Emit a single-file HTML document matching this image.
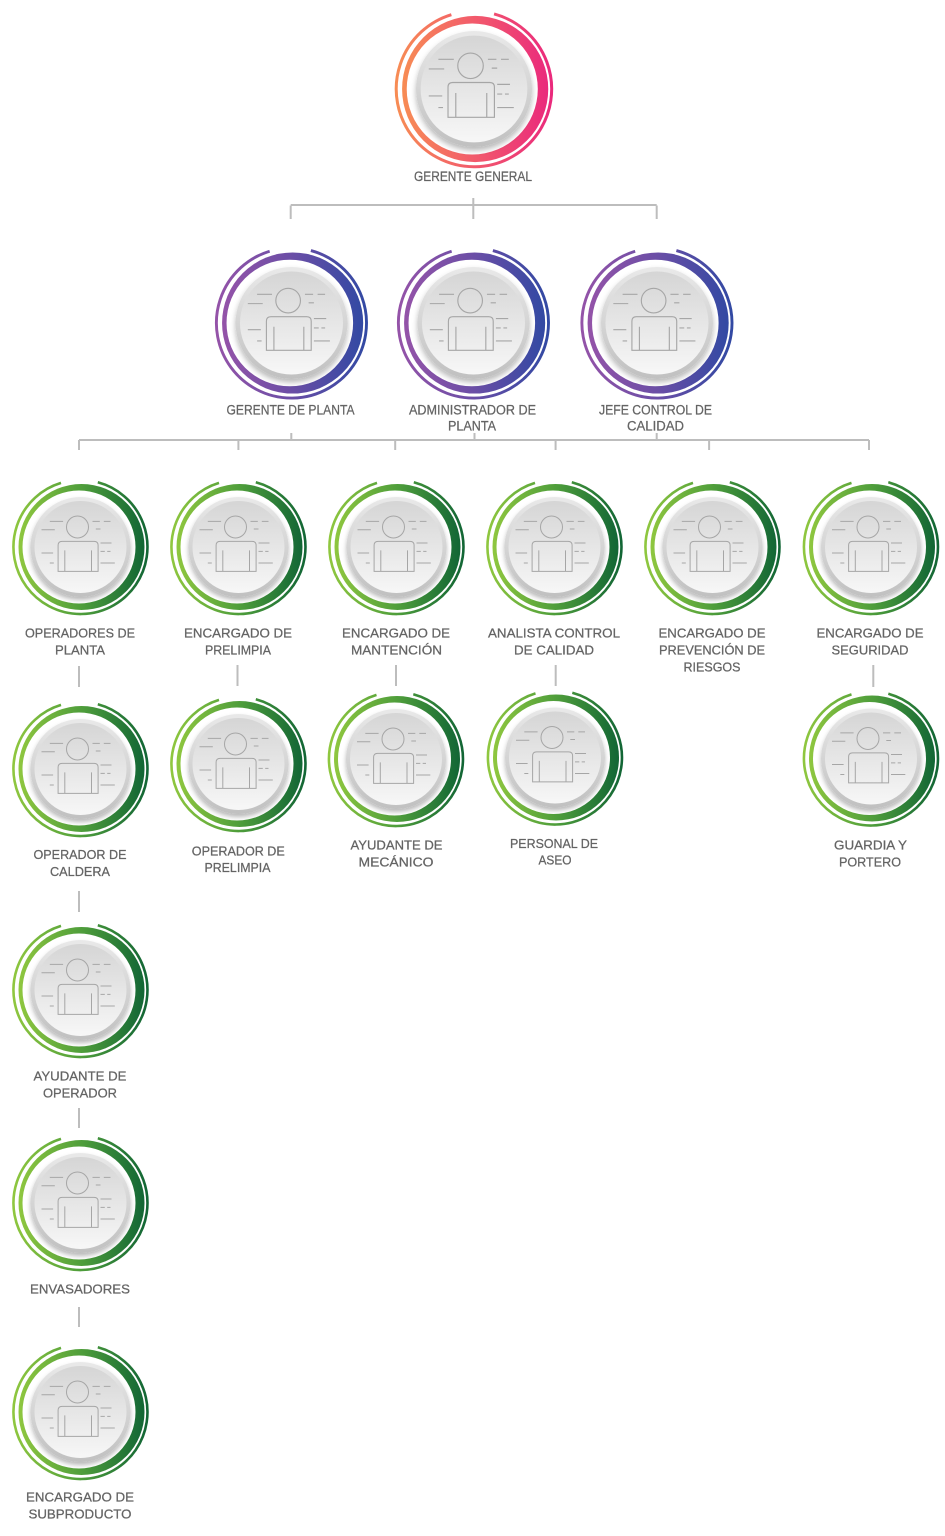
<!DOCTYPE html>
<html>
<head>
<meta charset="utf-8">
<style>
html,body{margin:0;padding:0;background:#fff;}
svg{display:block;}
text{font-family:"Liberation Sans",sans-serif;font-size:13px;fill:#646464;stroke:#646464;stroke-width:0.25;text-anchor:middle;}
</style>
</head>
<body>
<svg width="945" height="1536" viewBox="0 0 945 1536" xmlns="http://www.w3.org/2000/svg" xmlns:xlink="http://www.w3.org/1999/xlink">
<defs>
  <linearGradient id="gG" x1="0" y1="0" x2="1" y2="0">
    <stop offset="0" stop-color="#8fc73f"/>
    <stop offset="0.5" stop-color="#4f9e3b"/>
    <stop offset="1" stop-color="#126635"/>
  </linearGradient>
  <linearGradient id="gP" x1="0" y1="0" x2="1" y2="0">
    <stop offset="0" stop-color="#9453a8"/>
    <stop offset="0.5" stop-color="#6a4ea6"/>
    <stop offset="1" stop-color="#3249a3"/>
  </linearGradient>
  <linearGradient id="gO" x1="0" y1="0" x2="1" y2="0">
    <stop offset="0" stop-color="#f78c54"/>
    <stop offset="0.5" stop-color="#f25a6c"/>
    <stop offset="1" stop-color="#ea2a7c"/>
  </linearGradient>
  <linearGradient id="rim" x1="0" y1="0" x2="0" y2="1">
    <stop offset="0" stop-color="#e9e9e9"/>
    <stop offset="1" stop-color="#c0c0c0"/>
  </linearGradient>
  <linearGradient id="face" x1="0" y1="0" x2="0" y2="1">
    <stop offset="0" stop-color="#d5d5d5"/>
    <stop offset="1" stop-color="#f7f7f7"/>
  </linearGradient>
  <filter id="sh" x="-30%" y="-30%" width="160%" height="160%">
    <feDropShadow dx="0" dy="3" stdDeviation="2.5" flood-color="#000" flood-opacity="0.28"/>
  </filter>
  <g id="disk">
    <circle r="50" fill="url(#rim)" filter="url(#sh)"/>
    <circle r="46" fill="url(#face)"/>
    <g transform="translate(-3,-20)" stroke="#a6a6a6" stroke-width="1" fill="none">
      <circle r="11"/>
      <path d="M-19.4,44.4 V18.4 Q-19.4,14.4 -15.4,14.4 H16.6 Q20.6,14.4 20.6,18.4 V44.4 Z M-12.7,23.4 V44.4 M14,23.4 V44.4"/>
      <path d="M-27.7,-5.6 H-14.4 M-36,2.7 H-22.7 M-36,26 H-24.4 M-27.7,36 H-23.7 M15,-5.6 H22.3 M26.3,-5.6 H33 M18.3,2 H23 M23,16 H34 M23,24.4 H27.3 M29.7,24.4 H33 M23,36 H37.3"/>
    </g>
  </g>
  <g id="nG">
    <path d="M17.3,-64.7 A67,67 0 1 1 -19.5,-64.1" fill="none" stroke="url(#gG)" stroke-width="2.6"/>
    <circle cx="1" r="63" fill="url(#gG)"/>
    <circle cx="-1.5" r="56.5" fill="#fff"/>
    <use xlink:href="#disk"/>
  </g>
  <g id="nP">
    <path d="M17.3,-64.7 A67,67 0 1 1 -19.5,-64.1" fill="none" stroke="url(#gP)" stroke-width="2.6"/>
    <circle cx="1" r="63" fill="url(#gP)"/>
    <circle cx="-1.5" r="56.5" fill="#fff"/>
    <use xlink:href="#disk"/>
  </g>
  <g id="nO">
    <path d="M17.3,-64.7 A67,67 0 1 1 -19.5,-64.1" fill="none" stroke="url(#gO)" stroke-width="2.6"/>
    <circle cx="1" r="63" fill="url(#gO)"/>
    <circle cx="-1.5" r="56.5" fill="#fff"/>
    <use xlink:href="#disk"/>
  </g>
</defs>

<rect width="945" height="1536" fill="#fff"/>

<!-- connectors -->
<g stroke="#bdbdbd" stroke-width="2" fill="none">
  <path d="M473.3,198 V219 M290.7,205 H656.7 M290.7,205.5 V219 M656.7,205.5 V219"/>
  <path d="M79,440 H869 M291.3,433 V440 M474.5,433 V440 M656.7,433 V440"/>
  <path d="M79,440 V450 M238.4,440 V450 M395.2,440 V450 M555.6,440 V450 M709.1,440 V450 M869,440 V450"/>
  <path d="M79,666 V687 M237.5,665 V686 M396,665 V686 M555.7,665 V686 M873.3,665 V687"/>
  <path d="M79,891 V912 M79,1108 V1128 M79,1307 V1327"/>
</g>

<!-- nodes -->
<use xlink:href="#nO" transform="translate(474,89) scale(1.16)"/>

<use xlink:href="#nP" transform="translate(291.5,323) scale(1.12)"/>
<use xlink:href="#nP" transform="translate(473.5,323) scale(1.12)"/>
<use xlink:href="#nP" transform="translate(657,323) scale(1.12)"/>

<use xlink:href="#nG" transform="translate(80.5,547)"/>
<use xlink:href="#nG" transform="translate(238.5,547)"/>
<use xlink:href="#nG" transform="translate(396.5,547)"/>
<use xlink:href="#nG" transform="translate(554.5,547)"/>
<use xlink:href="#nG" transform="translate(712.5,547)"/>
<use xlink:href="#nG" transform="translate(871,547)"/>

<use xlink:href="#nG" transform="translate(80.5,769)"/>
<use xlink:href="#nG" transform="translate(238.5,764)"/>
<use xlink:href="#nG" transform="translate(396,759)"/>
<use xlink:href="#nG" transform="translate(555,757.5)"/>
<use xlink:href="#nG" transform="translate(871,758.5)"/>

<use xlink:href="#nG" transform="translate(80.5,990)"/>
<use xlink:href="#nG" transform="translate(80.5,1203)"/>
<use xlink:href="#nG" transform="translate(80.5,1412)"/>

<!-- labels -->
<text x="473" y="181" textLength="118" lengthAdjust="spacingAndGlyphs" style="font-size:13.5px">GERENTE GENERAL</text>

<text x="290.5" y="414.7" textLength="128" lengthAdjust="spacingAndGlyphs" style="font-size:13.5px">GERENTE DE PLANTA</text>
<text x="472.5" y="414.7" textLength="127" lengthAdjust="spacingAndGlyphs" style="font-size:13.5px">ADMINISTRADOR DE</text>
<text x="472" y="430.7" textLength="48" lengthAdjust="spacingAndGlyphs" style="font-size:13.5px">PLANTA</text>
<text x="655.5" y="414.7" textLength="113" lengthAdjust="spacingAndGlyphs" style="font-size:13.5px">JEFE CONTROL DE</text>
<text x="655.5" y="430.7" textLength="57" lengthAdjust="spacingAndGlyphs" style="font-size:13.5px">CALIDAD</text>

<text x="80" y="637.7" textLength="110" lengthAdjust="spacingAndGlyphs">OPERADORES DE</text>
<text x="80" y="654.7" textLength="50" lengthAdjust="spacingAndGlyphs">PLANTA</text>
<text x="238" y="637.7" textLength="108" lengthAdjust="spacingAndGlyphs">ENCARGADO DE</text>
<text x="238" y="654.7" textLength="66" lengthAdjust="spacingAndGlyphs">PRELIMPIA</text>
<text x="396" y="637.7" textLength="108" lengthAdjust="spacingAndGlyphs">ENCARGADO DE</text>
<text x="396.5" y="654.7" textLength="91" lengthAdjust="spacingAndGlyphs">MANTENCIÓN</text>
<text x="554" y="637.7" textLength="132" lengthAdjust="spacingAndGlyphs">ANALISTA CONTROL</text>
<text x="554" y="654.7" textLength="80" lengthAdjust="spacingAndGlyphs">DE CALIDAD</text>
<text x="712" y="637.7" textLength="107" lengthAdjust="spacingAndGlyphs">ENCARGADO DE</text>
<text x="712" y="654.7" textLength="106" lengthAdjust="spacingAndGlyphs">PREVENCIÓN DE</text>
<text x="712" y="671.7" textLength="57" lengthAdjust="spacingAndGlyphs">RIESGOS</text>
<text x="870" y="637.7" textLength="107" lengthAdjust="spacingAndGlyphs">ENCARGADO DE</text>
<text x="870" y="654.7" textLength="77" lengthAdjust="spacingAndGlyphs">SEGURIDAD</text>

<text x="80" y="859.2" textLength="93" lengthAdjust="spacingAndGlyphs">OPERADOR DE</text>
<text x="80" y="876.2" textLength="60" lengthAdjust="spacingAndGlyphs">CALDERA</text>
<text x="238.3" y="855.4" textLength="93" lengthAdjust="spacingAndGlyphs">OPERADOR DE</text>
<text x="237.5" y="872" textLength="66" lengthAdjust="spacingAndGlyphs">PRELIMPIA</text>
<text x="396.5" y="849.7" textLength="92" lengthAdjust="spacingAndGlyphs">AYUDANTE DE</text>
<text x="396" y="866.4" textLength="75" lengthAdjust="spacingAndGlyphs">MECÁNICO</text>
<text x="554" y="848" textLength="88" lengthAdjust="spacingAndGlyphs">PERSONAL DE</text>
<text x="555" y="864.7" textLength="33" lengthAdjust="spacingAndGlyphs">ASEO</text>
<text x="870.5" y="849.7" textLength="73" lengthAdjust="spacingAndGlyphs">GUARDIA Y</text>
<text x="870" y="866.4" textLength="62" lengthAdjust="spacingAndGlyphs">PORTERO</text>

<text x="80" y="1080.7" textLength="93" lengthAdjust="spacingAndGlyphs">AYUDANTE DE</text>
<text x="80" y="1097.7" textLength="74" lengthAdjust="spacingAndGlyphs">OPERADOR</text>
<text x="80" y="1293.7" textLength="100" lengthAdjust="spacingAndGlyphs">ENVASADORES</text>
<text x="80" y="1501.7" textLength="108" lengthAdjust="spacingAndGlyphs">ENCARGADO DE</text>
<text x="80" y="1518.7" textLength="103" lengthAdjust="spacingAndGlyphs">SUBPRODUCTO</text>
</svg>
</body>
</html>
